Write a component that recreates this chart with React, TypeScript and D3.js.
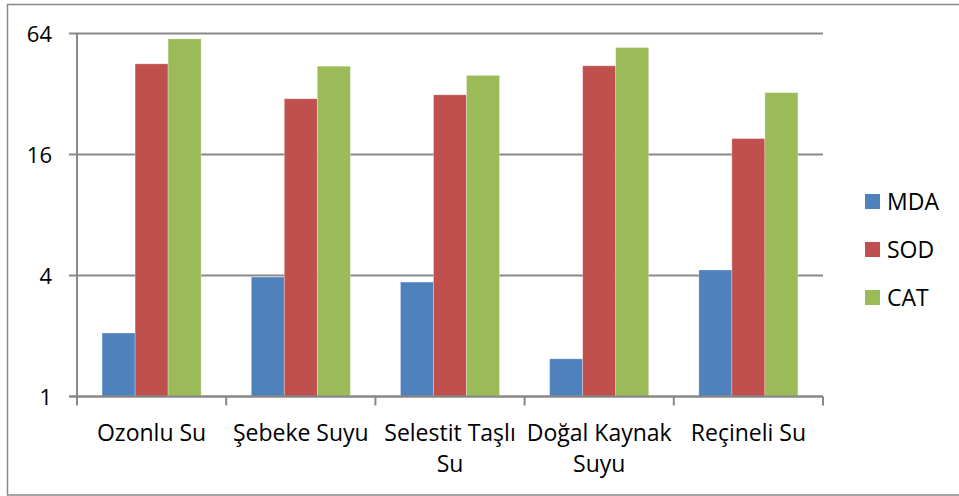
import React, { useEffect, useRef } from "react";
import * as d3 from "d3";

const categories = ["Ozonlu Su", "Şebeke Suyu", "Selestit Taşlı Su", "Doğal Kaynak Suyu", "Reçineli Su"];
const categoryLines = [["Ozonlu Su"], ["Şebeke Suyu"], ["Selestit Taşlı", "Su"], ["Doğal Kaynak", "Suyu"], ["Reçineli Su"]];
const seriesNames = ["MDA", "SOD", "CAT"];
const mda = [2.07, 3.93, 3.71, 1.54, 4.26];
const sod = [45.2, 30.3, 31.7, 44.2, 19.2];
const cat = [60.2, 44.0, 39.6, 54.5, 32.5];
const yTicks = [1, 4, 16, 64];
const colors = ["#4F81BD", "#C0504D", "#9BBB59"];

const width = 959, height = 496;
const font = "'Open Sans', sans-serif";

export default function App() {
  const ref = useRef<SVGSVGElement>(null);

  useEffect(() => {
    const svg = d3.select(ref.current);
    svg.selectAll("*").remove();

    const left = 77, right = 823, top = 33.5, bottom = 396.5;
    const values = [mda, sod, cat];

    const y = d3.scaleLog().base(2).domain([1, 64]).range([bottom, top]);
    const x0 = d3.scaleBand().domain(categories).range([left, right]).paddingInner(0.336).paddingOuter(0.168);
    const x1 = d3.scaleBand().domain(seriesNames).range([0, x0.bandwidth()]);
    const step = (right - left) / categories.length;

    // outer frame
    svg.append("rect")
      .attr("x", 7.5).attr("y", 4.5)
      .attr("width", width).attr("height", 490.5)
      .attr("fill", "white").attr("stroke", "#898989").attr("stroke-width", 1.5);

    // gridlines + y ticks
    svg.selectAll(".grid").data(yTicks).enter().append("line")
      .attr("x1", left - 8).attr("x2", right)
      .attr("y1", d => y(d)).attr("y2", d => y(d))
      .attr("stroke", "#888").attr("stroke-width", 2);

    svg.selectAll(".ylab").data(yTicks).enter().append("text")
      .attr("x", 52).attr("y", d => y(d) + 8.5)
      .attr("text-anchor", "end")
      .style("font-family", font).style("font-size", "22px")
      .text(d => d);

    // bars
    values.forEach((vals, si) => {
      svg.selectAll(".bar" + si).data(vals).enter().append("rect")
        .attr("x", (d, i) => x0(categories[i])! + x1(seriesNames[si])!)
        .attr("y", d => y(d))
        .attr("width", x1.bandwidth())
        .attr("height", d => bottom - y(d))
        .attr("fill", colors[si])
        .attr("stroke", "rgba(255,255,255,0.35)").attr("stroke-width", 0.8);
    });

    // axes
    svg.append("line")
      .attr("x1", left).attr("x2", left).attr("y1", top).attr("y2", bottom)
      .attr("stroke", "#888").attr("stroke-width", 2);
    svg.append("line")
      .attr("x1", left - 8).attr("x2", right).attr("y1", bottom).attr("y2", bottom)
      .attr("stroke", "#888").attr("stroke-width", 2);
    d3.range(categories.length + 1).forEach(i => {
      svg.append("line")
        .attr("x1", left + i * step).attr("x2", left + i * step)
        .attr("y1", bottom).attr("y2", bottom + 9)
        .attr("stroke", "#888").attr("stroke-width", 2);
    });

    // category labels
    categoryLines.forEach((lines, i) => {
      const cx = x0(categories[i])! + x0.bandwidth() / 2;
      const t = svg.append("text")
        .attr("text-anchor", "middle")
        .style("font-family", font).style("font-size", "23px");
      lines.forEach((ln, j) => {
        t.append("tspan").attr("x", cx).attr("y", 440.5 + j * 31).text(ln);
      });
    });

    // legend
    seriesNames.forEach((name, i) => {
      const ly = 194 + i * 48;
      svg.append("rect").attr("x", 865).attr("y", ly).attr("width", 15).attr("height", 15).attr("fill", colors[i]);
      svg.append("text").attr("x", 887).attr("y", ly + 15.5)
        .style("font-family", font).style("font-size", "23px").text(name);
    });
  }, []);

  return <svg ref={ref} width={width} height={height} style={{ position: "absolute", left: 0, top: 0 }} />;
}
